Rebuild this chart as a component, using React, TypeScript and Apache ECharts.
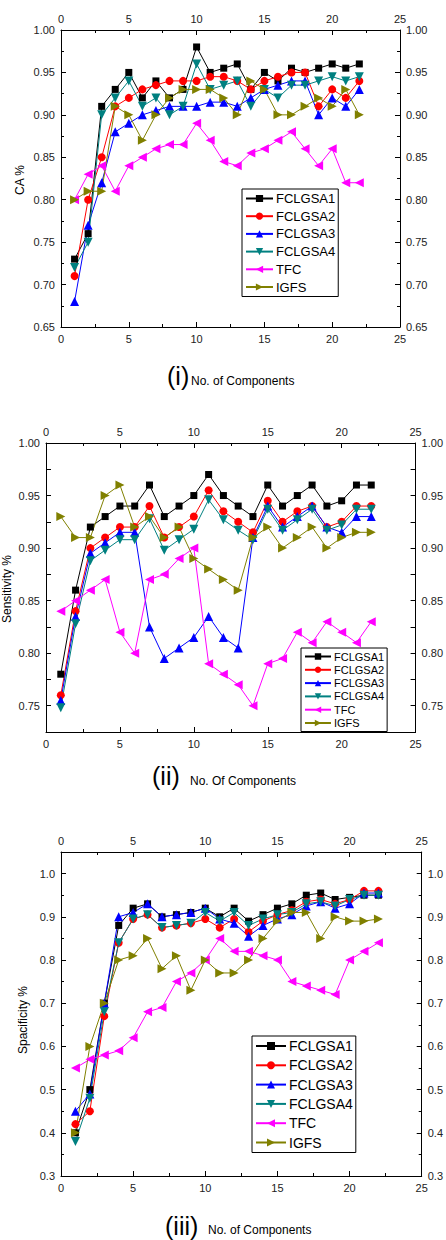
import React, { useEffect, useRef } from "react";
import * as echarts from "echarts";

const components = [1, 2, 3, 4, 5, 6, 7, 8, 9, 10, 11, 12, 13, 14, 15, 16, 17, 18, 19, 20, 21, 22];
const seriesNames = ["FCLGSA1", "FCLGSA2", "FCLGSA3", "FCLGSA4", "TFC", "IGFS"];
const seriesColors = ["#000000", "#ff0000", "#0000ff", "#008080", "#ff00ff", "#808000"];
const seriesSymbols = ["rect", "circle", "triangle", "triangle", "triangle", "triangle"];
const seriesRotate = [0, 0, 0, 180, 90, -90];

// (i) CA %
const caFCLGSA1 = [0.73, 0.76, 0.91, 0.93, 0.95, 0.92, 0.94, 0.92, 0.93, 0.98, 0.95, 0.955, 0.96, 0.93, 0.95, 0.94, 0.955, 0.95, 0.955, 0.96, 0.955, 0.96];
const caFCLGSA2 = [0.71, 0.80, 0.85, 0.91, 0.92, 0.93, 0.935, 0.94, 0.94, 0.94, 0.945, 0.945, 0.94, 0.93, 0.94, 0.945, 0.95, 0.95, 0.91, 0.93, 0.92, 0.94];
const caFCLGSA3 = [0.68, 0.77, 0.82, 0.88, 0.89, 0.90, 0.905, 0.91, 0.91, 0.91, 0.915, 0.915, 0.91, 0.92, 0.93, 0.935, 0.94, 0.94, 0.90, 0.92, 0.91, 0.93];
const caFCLGSA4 = [0.72, 0.75, 0.90, 0.92, 0.94, 0.91, 0.92, 0.90, 0.91, 0.96, 0.93, 0.935, 0.94, 0.91, 0.93, 0.92, 0.935, 0.935, 0.94, 0.945, 0.94, 0.945];
const caTFC = [0.80, 0.83, 0.84, 0.81, 0.84, 0.85, 0.86, 0.865, 0.865, 0.89, 0.87, 0.845, 0.84, 0.855, 0.86, 0.87, 0.88, 0.86, 0.84, 0.86, 0.82, 0.82];
const caIGFS = [0.80, 0.81, 0.81, 0.91, 0.90, 0.87, 0.90, 0.92, 0.93, 0.93, 0.93, 0.92, 0.90, 0.94, 0.93, 0.90, 0.90, 0.91, 0.92, 0.91, 0.93, 0.90];

// (ii) Sensitivity %
const senFCLGSA1 = [0.78, 0.86, 0.92, 0.93, 0.94, 0.94, 0.96, 0.93, 0.94, 0.95, 0.97, 0.95, 0.94, 0.93, 0.96, 0.94, 0.95, 0.96, 0.94, 0.945, 0.96, 0.96];
const senFCLGSA2 = [0.76, 0.84, 0.90, 0.91, 0.92, 0.92, 0.94, 0.91, 0.92, 0.93, 0.955, 0.935, 0.925, 0.915, 0.945, 0.925, 0.935, 0.94, 0.92, 0.925, 0.94, 0.94];
const senFCLGSA3 = [0.755, 0.835, 0.895, 0.905, 0.915, 0.915, 0.825, 0.795, 0.805, 0.815, 0.835, 0.815, 0.805, 0.91, 0.94, 0.92, 0.93, 0.94, 0.92, 0.915, 0.93, 0.93];
const senFCLGSA4 = [0.748, 0.828, 0.888, 0.898, 0.908, 0.908, 0.928, 0.898, 0.908, 0.918, 0.946, 0.927, 0.917, 0.908, 0.937, 0.917, 0.927, 0.937, 0.917, 0.922, 0.937, 0.937];
const senTFC = [0.84, 0.85, 0.86, 0.87, 0.82, 0.80, 0.87, 0.875, 0.89, 0.90, 0.79, 0.78, 0.77, 0.75, 0.79, 0.795, 0.82, 0.81, 0.83, 0.82, 0.81, 0.83];
const senIGFS = [0.93, 0.91, 0.91, 0.95, 0.96, 0.92, 0.93, 0.91, 0.92, 0.89, 0.88, 0.87, 0.86, 0.91, 0.92, 0.90, 0.91, 0.92, 0.90, 0.91, 0.915, 0.915];

// (iii) Spacificity %
const spFCLGSA1 = [0.40, 0.50, 0.70, 0.88, 0.92, 0.93, 0.90, 0.905, 0.91, 0.92, 0.90, 0.92, 0.89, 0.905, 0.92, 0.93, 0.95, 0.955, 0.94, 0.945, 0.95, 0.95];
const spFCLGSA2 = [0.42, 0.45, 0.67, 0.84, 0.895, 0.905, 0.875, 0.88, 0.885, 0.895, 0.875, 0.895, 0.865, 0.89, 0.905, 0.915, 0.935, 0.94, 0.93, 0.94, 0.96, 0.96];
const spFCLGSA3 = [0.45, 0.49, 0.70, 0.90, 0.91, 0.93, 0.90, 0.905, 0.91, 0.92, 0.895, 0.885, 0.855, 0.88, 0.895, 0.905, 0.925, 0.935, 0.92, 0.93, 0.955, 0.955];
const spFCLGSA4 = [0.38, 0.48, 0.68, 0.84, 0.895, 0.905, 0.875, 0.88, 0.885, 0.91, 0.89, 0.91, 0.88, 0.895, 0.905, 0.91, 0.93, 0.935, 0.925, 0.94, 0.95, 0.95];
const spTFC = [0.55, 0.57, 0.58, 0.59, 0.62, 0.68, 0.69, 0.75, 0.77, 0.80, 0.85, 0.82, 0.82, 0.81, 0.80, 0.75, 0.74, 0.73, 0.72, 0.80, 0.82, 0.84];
const spIGFS = [0.40, 0.60, 0.70, 0.80, 0.81, 0.85, 0.78, 0.81, 0.73, 0.80, 0.77, 0.77, 0.80, 0.85, 0.89, 0.91, 0.91, 0.85, 0.90, 0.89, 0.89, 0.895];

const panelData = [
  [caFCLGSA1, caFCLGSA2, caFCLGSA3, caFCLGSA4, caTFC, caIGFS],
  [senFCLGSA1, senFCLGSA2, senFCLGSA3, senFCLGSA4, senTFC, senIGFS],
  [spFCLGSA1, spFCLGSA2, spFCLGSA3, spFCLGSA4, spTFC, spIGFS],
];
const yNames = ["CA %", "Sensitivity %", "Spacificity %"];
const romanLabels = ["(i)", "(ii)", "(iii)"];
const xCaptions = ["No. of Components", "No. Of Components", "No. of Components"];

const FONT = "'Liberation Sans', Arial, sans-serif";

export default function App() {
  const ref = useRef<HTMLDivElement>(null);
  useEffect(() => {
    if (!ref.current) return;
    const chart = echarts.init(ref.current, null, { renderer: "svg" });

    const grids = [
      { left: 61, top: 30, width: 339, height: 297 },
      { left: 46, top: 443, width: 370, height: 289 },
      { left: 61, top: 852, width: 367, height: 324 },
    ];
    const yCfg = [
      { min: 0.65, max: 1.0, interval: 0.05, minor: true, fmt: (v: number) => v.toFixed(2), showMax: true },
      {
        min: 0.725, max: 1.0, interval: 0.025, minor: false,
        fmt: (v: number) => (Math.round(v * 1000) % 50 === 0 ? v.toFixed(2) : ""), showMax: true,
      },
      { min: 0.3, max: 1.05, interval: 0.1, minor: true, fmt: (v: number) => v.toFixed(1), showMax: false },
    ];

    const axisLine = { show: true, onZero: false, lineStyle: { color: "#000", width: 1 } };
    const label = { color: "#222", fontSize: 11, fontFamily: FONT };

    const xAxis: any[] = [];
    const yAxis: any[] = [];
    grids.forEach((g, i) => {
      ["bottom", "top"].forEach((pos) => {
        xAxis.push({
          type: "value", gridIndex: i, position: pos, min: 0, max: 25, interval: 5,
          axisLine, splitLine: { show: false },
          axisTick: { show: true, inside: true, length: 5, lineStyle: { color: "#000" } },
          minorTick: { show: true, splitNumber: 2, length: 3, lineStyle: { color: "#000" } },
          axisLabel: { ...label, margin: 6 },
        });
      });
      ["left", "right"].forEach((pos) => {
        const c = yCfg[i];
        yAxis.push({
          type: "value", gridIndex: i, position: pos, min: c.min, max: c.max, interval: c.interval,
          axisLine, splitLine: { show: false },
          axisTick: { show: true, inside: true, length: 5, lineStyle: { color: "#000" } },
          minorTick: { show: c.minor, splitNumber: 2, length: 3, lineStyle: { color: "#000" } },
          axisLabel: { ...label, margin: 6, formatter: c.fmt, showMaxLabel: c.showMax },
        });
      });
    });

    const series: any[] = [];
    panelData.forEach((arrs, p) => {
      arrs.forEach((vals, s) => {
        series.push({
          type: "line", name: seriesNames[s], xAxisIndex: p * 2, yAxisIndex: p * 2,
          data: components.map((x, k) => [x, vals[k]]),
          symbol: seriesSymbols[s], symbolRotate: seriesRotate[s],
          symbolSize: s === 0 ? 7 : s === 1 ? 8 : 9,
          lineStyle: { color: seriesColors[s], width: 1 },
          itemStyle: { color: seriesColors[s] },
          showAllSymbol: true,
        });
      });
    });

    const legendCfg = [
      { left: 242, top: 189, fontSize: 13, itemWidth: 27, itemHeight: 9, itemGap: 4.7 },
      { left: 301, top: 648, fontSize: 11, itemWidth: 26, itemHeight: 8, itemGap: 2.3 },
      { left: 252, top: 1036, fontSize: 14, itemWidth: 30, itemHeight: 10, itemGap: 5.3 },
    ];
    const legend = legendCfg.map((l, i) => ({
      id: "lg" + i,
      orient: "vertical", left: l.left, top: l.top, data: seriesNames,
      borderColor: "#000", borderWidth: 1, borderRadius: 0, padding: [3, 3, 3, 3],
      backgroundColor: "#fff",
      itemWidth: l.itemWidth, itemHeight: l.itemHeight, itemGap: l.itemGap,
      textStyle: { color: "#000", fontSize: l.fontSize, fontFamily: FONT, padding: [0, 0, 0, -2] },
      selectedMode: false,
    }));

    const graphic: any[] = [];
    // rotated y-axis titles
    const yNamePos = [
      { x: 20, y: 180 },
      { x: 7, y: 589 },
      { x: 22.5, y: 1020 },
    ];
    yNamePos.forEach((p, i) => {
      graphic.push({
        type: "text", x: p.x, y: p.y, rotation: Math.PI / 2,
        style: { text: yNames[i], x: 0, y: 0, align: "center", verticalAlign: "middle", fontSize: 12, fontFamily: FONT, fill: "#000" },
      });
    });
    // captions
    const capPos = [
      { rx: 167, ry: 377, tx: 191, ty: 382 },
      { rx: 152, ry: 777, tx: 190, ty: 782 },
      { rx: 165, ry: 1227, tx: 208, ty: 1231 },
    ];
    capPos.forEach((c, i) => {
      graphic.push({
        type: "text", left: c.rx, top: c.ry - 14,
        style: { text: romanLabels[i], fontSize: 25, fontFamily: FONT, fill: "#000" },
      });
      graphic.push({
        type: "text", left: c.tx, top: c.ty - 7,
        style: { text: xCaptions[i], fontSize: 12, fontFamily: FONT, fill: "#000" },
      });
    });

    chart.setOption({
      animation: false,
      backgroundColor: "#fff",
      grid: grids.map((g) => ({ ...g, containLabel: false })),
      xAxis, yAxis, series, legend, graphic,
    });
    return () => chart.dispose();
  }, []);
  return <div ref={ref} style={{ position: "absolute", left: 0, top: 0, width: 446, height: 1240 }} />;
}
